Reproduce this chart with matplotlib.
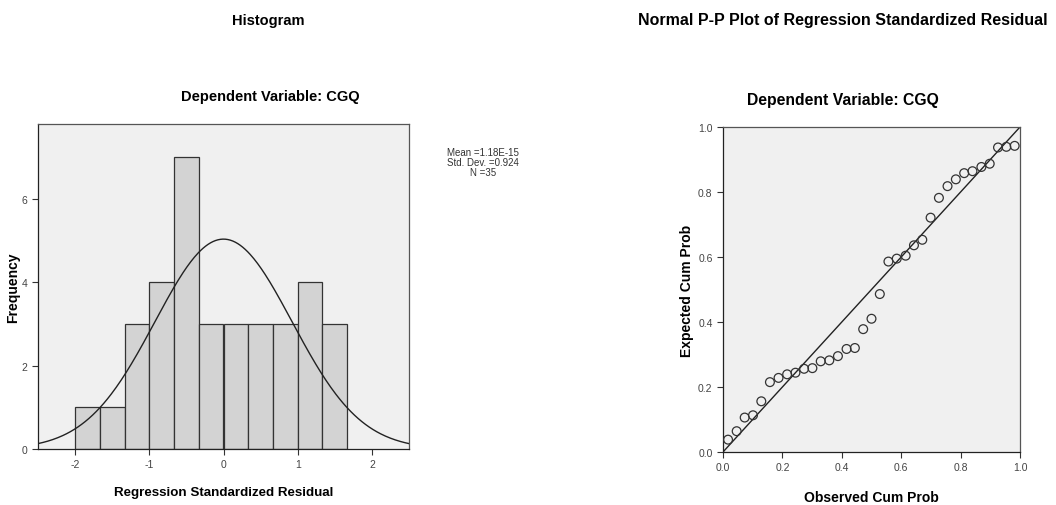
#!/usr/bin/env python3

from matplotlib import pyplot as plt
import numpy as np

plt.rcParams['font.family'] = ['Liberation Sans', 'DejaVu Sans']
plt.rcParams['axes.unicode_minus'] = False

# Histogram data (bins of width 1/3 starting at -2)
bin_edges = [-2, -5/3, -4/3, -1, -2/3, -1/3, 0, 1/3, 2/3, 1, 4/3, 5/3]
bin_counts = [1, 1, 3, 4, 7, 3, 3, 3, 3, 4, 3]
res_mean = 1.18e-15
res_sd = 0.924
res_n = 35

# P-P plot data
observed_cum = [0.017, 0.046, 0.073, 0.101, 0.129, 0.158, 0.187, 0.216, 0.244,
                0.273, 0.301, 0.329, 0.358, 0.387, 0.416, 0.444, 0.472, 0.500,
                0.528, 0.557, 0.585, 0.615, 0.643, 0.671, 0.699, 0.727, 0.756,
                0.784, 0.812, 0.840, 0.870, 0.898, 0.926, 0.954, 0.982]
expected_cum = [0.038, 0.064, 0.106, 0.113, 0.156, 0.215, 0.228, 0.239, 0.244,
                0.256, 0.258, 0.279, 0.282, 0.295, 0.317, 0.320, 0.378, 0.410,
                0.486, 0.586, 0.595, 0.604, 0.636, 0.653, 0.721, 0.782, 0.818,
                0.839, 0.858, 0.864, 0.877, 0.887, 0.937, 0.939, 0.942]

BG = '#f0f0f0'
BAR = '#d3d3d3'
EDGE = '#333333'
TICK = '#444444'


def style_axes(ax):
    ax.set_facecolor(BG)
    for s in ax.spines.values():
        s.set_color('#555555')
        s.set_linewidth(0.9)
    ax.spines['left'].set_color('#222222')
    ax.spines['bottom'].set_color('#222222')
    ax.tick_params(labelsize=7.5, colors='#333333', labelcolor=TICK, length=4, width=0.8)


fig = plt.figure(figsize=(10.56, 5.06), dpi=100)

# Histogram
ax1 = fig.add_axes([38/1056, 1 - 450/506, 371/1056, 325/506])
style_axes(ax1)
edges = np.array(bin_edges)
widths = np.diff(edges)
ax1.bar(edges[:-1], bin_counts, width=widths, align='edge', color=BAR,
        edgecolor=EDGE, linewidth=0.9, zorder=2)
xs = np.linspace(-2.5, 2.5, 300)
bw = widths[0]
curve = res_n * bw * np.exp(-0.5 * ((xs - res_mean) / res_sd) ** 2) / (res_sd * np.sqrt(2 * np.pi))
ax1.plot(xs, curve, color='#222222', linewidth=1.0, zorder=3)
ax1.set_xlim(-2.5, 2.5)
ax1.set_ylim(0, 7.8)
ax1.set_xticks([-2, -1, 0, 1, 2])
ax1.set_yticks([0, 2, 4, 6])
ax1.set_xlabel('Regression Standardized Residual', fontsize=9.6, fontweight='bold', labelpad=12)
ax1.set_ylabel('Frequency', fontsize=10, fontweight='bold')
ax1.yaxis.set_label_coords(-0.047, 0.5)

fig.text(270/1056, 1 - 97/506, 'Dependent Variable: CGQ', ha='center', va='center',
         fontsize=10.5, fontweight='bold')
fig.text(268/1056, 1 - 21/506, 'Histogram', ha='center', va='center',
         fontsize=10.5, fontweight='bold')
fig.text(483/1056, 1 - 163/506, 'Mean =1.18E-15\nStd. Dev. =0.924\nN =35',
         ha='center', va='center', fontsize=7, color='#333333', linespacing=0.95)

# P-P plot
ax2 = fig.add_axes([723/1056, 1 - 453/506, 297/1056, 325/506])
style_axes(ax2)
ax2.plot([0, 1], [0, 1], color='#222222', linewidth=1.0, zorder=2)
ax2.scatter(observed_cum, expected_cum, s=40, facecolors='none',
            edgecolors='#333333', linewidths=0.9, zorder=3)
ax2.set_xlim(0, 1)
ax2.set_ylim(0, 1)
ticks = np.arange(0, 1.01, 0.2)
ax2.set_xticks(ticks)
ax2.set_yticks(ticks)
ax2.set_xticklabels(['%.1f' % t for t in ticks])
ax2.set_yticklabels(['%.1f' % t for t in ticks])
ax2.set_xlabel('Observed Cum Prob', fontsize=10, fontweight='bold', labelpad=13)
ax2.set_ylabel('Expected Cum Prob', fontsize=10, fontweight='bold')
ax2.yaxis.set_label_coords(-0.097, 0.5)

fig.text(843/1056, 1 - 101/506, 'Dependent Variable: CGQ', ha='center', va='center',
         fontsize=11.3, fontweight='bold')
fig.text(843/1056, 1 - 21/506, 'Normal P-P Plot of Regression Standardized Residual',
         ha='center', va='center', fontsize=11.5, fontweight='bold')

plt.savefig('out.png', dpi=100)
